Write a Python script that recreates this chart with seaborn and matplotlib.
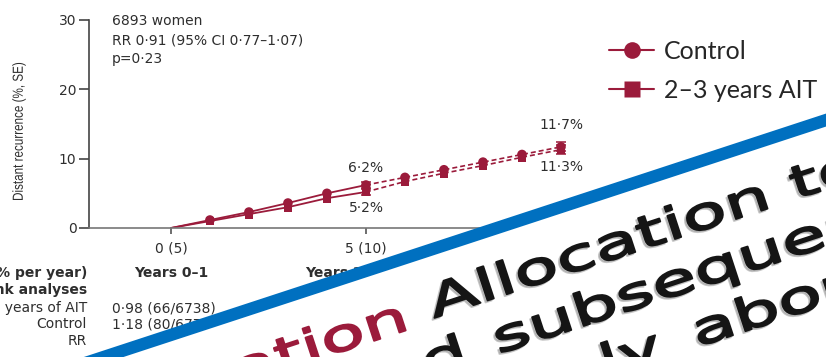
import numpy as np
import pandas as pd
import matplotlib
matplotlib.use("Agg")
import matplotlib.pyplot as plt
import matplotlib.patheffects as pe
from matplotlib.patches import Polygon
from matplotlib.lines import Line2D
from matplotlib.transforms import Affine2D
import seaborn as sns

# Cumulative distant recurrence (%) by year since randomisation
years = [0, 1, 2, 3, 4, 5, 6, 7, 8, 9, 10]
control = [0, 1.15, 2.3, 3.6, 5.0, 6.2, 7.3, 8.4, 9.5, 10.6, 11.7]
ait = [0, 1.0, 2.0, 3.0, 4.3, 5.2, 6.7, 7.9, 9.0, 10.2, 11.3]
se_years = [5, 10]
control_se = [0.5, 0.65]
ait_se = [0.45, 0.6]
series_names = ["Control", "2–3 years AIT"]

xtick_pos = [0, 5, 10]
xtick_labels = ["0 (5)", "5 (10)", "10 (15)"]
ytick_pos = [0, 10, 20, 30]

summary_lines = ["6893 women", "RR 0·91 (95% CI 0·77–1·07)", "p=0·23"]
table_headers = ["Event rate (% per year)", "Years 0–1", "Years 2–4"]
table_rows = ["Logrank analyses", "2–3 years of AIT", "Control", "RR"]
table_values = ["", "0·98 (66/6738)", "1·18 (80/6772)", ""]

RED = "#9b1b3b"
INK = "#2e2e2e"
W, H = 826, 357

sns.set_style("white")
plt.rcParams["font.family"] = ["DejaVu Sans"]


class Stretch(pe.AbstractPathEffect):
    """Widen or narrow glyphs along their baseline, optionally emboldened
    and with a soft offset shadow."""

    def __init__(self, sx, pivot=0.0, shadow=None, lw=0.0):
        super().__init__()
        self.sx = sx
        self.pivot = pivot
        self.shadow = shadow
        self.lw = lw

    def _draw(self, renderer, gc, tpath, trans, color, alpha=None):
        gc0 = renderer.new_gc()
        gc0.copy_properties(gc)
        rgb = matplotlib.colors.to_rgb(color)
        gc0.set_foreground(rgb)
        gc0.set_linewidth(self.lw)
        gc0.set_joinstyle("round")
        if alpha is not None:
            gc0.set_alpha(alpha)
        renderer.draw_path(gc0, tpath, trans, rgb)
        gc0.restore()

    def draw_path(self, renderer, gc, tpath, affine, rgbFace=None):
        ext = tpath.get_extents()
        px = ext.x0 + self.pivot * (ext.x1 - ext.x0) if self.pivot else 0.0
        stretch = Affine2D().translate(-px, 0).scale(self.sx, 1).translate(px, 0)
        if self.shadow is not None:
            dx, dy, color, alpha = self.shadow
            self._draw(renderer, gc, tpath,
                       stretch + affine + Affine2D().translate(dx, dy),
                       color, alpha)
        if self.lw > 0:
            self._draw(renderer, gc, tpath, stretch + affine, rgbFace[:3])
        else:
            renderer.draw_path(gc, tpath, stretch + affine, rgbFace)


def P(px, py):
    """Pixel position (from top-left) to figure fraction."""
    return px / W, 1 - py / H


fig = plt.figure(figsize=(W / 100, H / 100), dpi=100)
ax = fig.add_axes([89 / W, 1 - 228 / H, 550 / W, 208 / H])

frames = {
    "Control": pd.DataFrame({"year": years, "risk": control}),
    "2–3 years AIT": pd.DataFrame({"year": years, "risk": ait}),
}
markers = {"Control": "o", "2–3 years AIT": "s"}
sizes = {"Control": 48, "2–3 years AIT": 40}

for name in series_names:
    df = frames[name]
    sns.lineplot(data=df[df.year <= 5], x="year", y="risk", color=RED,
                 lw=1.3, ax=ax, zorder=2)
    sns.lineplot(data=df[df.year >= 5], x="year", y="risk", color=RED,
                 lw=1.2, linestyle=(0, (3.0, 1.8)), ax=ax, zorder=2)
    sns.scatterplot(data=df[df.year >= 1], x="year", y="risk",
                    marker=markers[name], s=sizes[name], color=RED,
                    edgecolor="none", ax=ax, zorder=3, legend=False)

ctrl_at = [control[years.index(y)] for y in se_years]
ait_at = [ait[years.index(y)] for y in se_years]
ax.errorbar(se_years, ctrl_at, yerr=control_se, fmt="none", ecolor=RED,
            elinewidth=1.1, capsize=3.8, capthick=1.1, zorder=3)
ax.errorbar(se_years, ait_at, yerr=ait_se, fmt="none", ecolor=RED,
            elinewidth=1.1, capsize=3.8, capthick=1.1, zorder=3)

# value labels at 5 and 10 years
offsets = [(ctrl_at[0], 12.5), (ait_at[0], -11.5), (ctrl_at[1], 16), (ait_at[1], -12.5)]
for (yv, dy), xv in zip(offsets, [5, 5, 10, 10]):
    ax.annotate(f"{yv:.1f}%".replace(".", "·"), xy=(xv, yv), xytext=(0, dy),
                textcoords="offset points", ha="center", va="center",
                fontsize=10, color=INK)

ax.set_xlim(-2.1, 12)
ax.set_ylim(0, 30)
ax.set_xticks(xtick_pos)
ax.set_xticklabels(xtick_labels)
ax.set_yticks(ytick_pos)
ax.set_xlabel("")
ylab = ax.set_ylabel("Distant recurrence (%, SE)", fontsize=10.5, color=INK,
                     family=["Liberation Sans", "DejaVu Sans"])
ylab.set_path_effects([Stretch(0.8, pivot=0.5)])
ax.yaxis.set_label_coords(-0.115, 0.466)
for s in ["top", "right"]:
    ax.spines[s].set_visible(False)
ax.spines["left"].set_color("#444444")
ax.spines["bottom"].set_color("#777777")
ax.spines["left"].set_linewidth(1.2)
ax.spines["bottom"].set_linewidth(1.2)
ax.tick_params(axis="y", length=7, width=1.2, color="#444444", pad=2,
               labelsize=10, labelcolor=INK, left=True)
ax.tick_params(axis="x", length=4.5, width=1.2, color="#555555", pad=5,
               labelsize=10, labelcolor=INK, bottom=True)

# legend
handles = [
    Line2D([0], [0], color=RED, lw=1.5, marker="o", ms=12, mec="none"),
    Line2D([0], [0], color=RED, lw=1.5, marker="s", ms=11, mec="none"),
]
ax.legend(handles, series_names, loc="upper left",
          bbox_to_anchor=P(609, 40), bbox_transform=fig.transFigure,
          frameon=False, borderpad=0, borderaxespad=0, handlelength=1.8,
          handletextpad=0.4, labelspacing=0.62,
          prop={"family": ["Lato", "DejaVu Sans"], "size": 18})

# trial summary
for txt, py in zip(summary_lines, [21, 41, 59]):
    fig.text(*P(112, py), txt, fontsize=10, color=INK, ha="left", va="center")

# rate table below the axis
fig.text(*P(87, 273), table_headers[0], fontsize=10, weight="bold", color=INK,
         ha="right", va="center")
fig.text(*P(171, 273), table_headers[1], fontsize=10, weight="bold", color=INK,
         ha="center", va="center")
fig.text(*P(305, 273), table_headers[2], fontsize=10, weight="bold", color=INK,
         ha="left", va="center")
for i, (lab, val) in enumerate(zip(table_rows, table_values)):
    py = [290, 308, 324, 341][i]
    fig.text(*P(87, py), lab, fontsize=10, color=INK, ha="right", va="center",
             weight="bold" if i == 0 else "normal")
    if val:
        fig.text(*P(112, py), val, fontsize=10, color=INK, ha="left", va="center")

# diagonal banner across the lower right
slope = 0.328
angle = np.degrees(np.arctan(slope))


def yc(x):
    return 227 - slope * (x - 500)


x0, x1 = 40, 880
cover = Polygon([P(x0, yc(x0) + 5), P(x1, yc(x1) + 5), P(x1, 420), P(x0, 420)],
                closed=True, transform=fig.transFigure, facecolor="white",
                edgecolor="none", zorder=5)
fig.add_artist(cover)
band = Polygon([P(x0, yc(x0) - 6.5), P(x1, yc(x1) - 6.5),
                P(x1, yc(x1) + 6.5), P(x0, yc(x0) + 6.5)],
               closed=True, transform=fig.transFigure, facecolor="#0070c0",
               edgecolor="none", zorder=8)
fig.add_artist(band)

banner_words = [
    ("Interpretation", 410, 329, "right", RED),
    ("Allocation to", 434, 318, "left", "#151515"),
    ("and", 468, 364, "right", "#151515"),
    ("subsequent", 498, 354, "left", "#151515"),
    ("only", 664, 358, "right", "#151515"),
    ("about", 697, 347, "left", "#151515"),
]
for word, px, py, ha, col in banner_words:
    t = fig.text(*P(px, py), word, fontsize=32, color=col, ha=ha, va="baseline",
                 rotation=angle, rotation_mode="anchor", zorder=6,
                 family=["DejaVu Sans"])
    shadow = None if col == RED else (-2, -2, "0.6", 0.55)
    t.set_path_effects([Stretch(1.63, pivot=1.0 if ha == "right" else 0.0,
                                shadow=shadow, lw=1.4)])

fig.savefig("out.png", dpi=100)
